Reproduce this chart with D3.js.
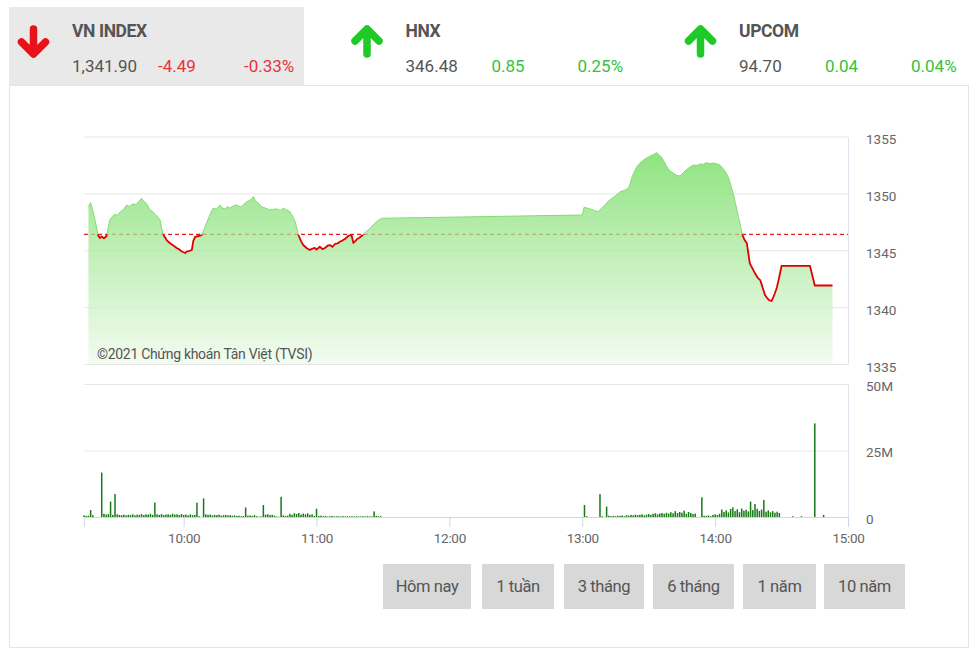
<!DOCTYPE html>
<html>
<head>
<meta charset="utf-8">
<script src="https://cdn.jsdelivr.net/npm/d3@7"></script>
<style>
  html, body { margin: 0; padding: 0; background: #fff; }
  svg { display: block; font-family: Roboto, "Noto Sans", sans-serif; }
</style>
</head>
<body>
<svg id="chart" width="978" height="656"></svg>
<script>
// ---------- data ----------
const indexNames   = ["VN INDEX", "HNX", "UPCOM"];
const indexValues  = ["1,341.90", "346.48", "94.70"];
const indexChanges = ["-4.49", "0.85", "0.04"];
const indexPcts    = ["-0.33%", "0.25%", "0.04%"];
const indexDirs    = ["down", "up", "up"];

const referencePrice = 1346.39;

const priceTimes = [
 "09:17:00","09:18:00","09:19:30","09:21:20","09:22:10","09:23:00","09:24:00","09:25:10","09:26:40","09:27:30",
 "09:29:00","09:30:00","09:31:20","09:32:40","09:34:20","09:35:30","09:37:00","09:38:30","09:39:50","09:41:00",
 "09:42:00","09:43:00","09:44:50","09:46:00","09:47:00","09:48:00","09:49:20","09:50:30","09:51:20","09:52:20",
 "09:53:20","09:54:20","09:55:30","09:56:50","09:57:50","09:58:50","09:59:40","10:00:40","10:01:30","10:02:20",
 "10:03:40","10:04:20","10:05:10","10:06:30","10:08:10","10:09:20","10:10:20","10:11:50","10:13:20","10:14:50",
 "10:16:20","10:17:30","10:18:40","10:19:50","10:20:50","10:22:30","10:24:00","10:25:50","10:27:10","10:28:30",
 "10:30:00","10:31:30","10:32:20","10:33:10","10:35:10","10:37:00","10:39:00","10:40:40","10:42:10","10:43:40",
 "10:45:00","10:46:30","10:48:00","10:49:10","10:50:20","10:51:10","10:51:50","10:53:00","10:54:00","10:55:30",
 "10:57:00","10:58:10","10:59:20","11:00:00","11:01:30","11:02:40","11:03:50","11:05:00","11:06:00","11:07:10",
 "11:08:20","11:09:30","11:10:30","11:11:40","11:12:50","11:14:00","11:15:00","11:15:50","11:16:40","11:17:30",
 "11:18:20","11:19:20","11:20:20","11:22:00","11:24:10","11:26:00","11:27:40","11:29:30",
 "13:00:00","13:00:50","13:03:30","13:05:30","13:07:10","13:08:30","13:09:50","13:11:10","13:12:30","13:13:40",
 "13:14:50","13:16:00","13:17:00","13:18:10","13:19:20","13:20:50","13:21:40","13:22:30","13:23:30","13:24:40",
 "13:26:00","13:27:40","13:29:00","13:30:40","13:32:00","13:33:40","13:34:40","13:35:40","13:37:00","13:38:10",
 "13:39:30","13:41:00","13:42:30","13:44:10","13:45:30","13:46:50","13:48:30","13:50:10","13:51:40","13:53:10",
 "13:54:40","13:56:10","13:57:40","13:59:00","14:00:40","14:02:10","14:03:30","14:04:40","14:05:50","14:07:00",
 "14:08:10","14:09:20","14:10:30","14:11:30","14:12:20","14:13:20","14:14:20","14:15:00","14:15:40","14:16:50",
 "14:18:00","14:19:10","14:20:20","14:21:20","14:22:30","14:23:30","14:24:30","14:25:30","14:26:20","14:27:00",
 "14:27:50","14:28:30","14:29:20","14:30:00","14:42:50","14:45:00","14:53:00"
];
const priceValues = [
 1348.83,1349.18,1348.10,1346.34,1346.08,1346.22,1346.05,1346.25,1347.66,1347.90,
 1348.19,1348.05,1348.37,1348.55,1348.98,1348.85,1349.07,1349.02,1349.30,1349.57,
 1349.30,1349.15,1348.54,1348.40,1348.19,1348.00,1347.66,1346.52,1346.20,1345.90,
 1345.70,1345.55,1345.40,1345.20,1345.10,1344.93,1344.85,1344.76,1344.90,1344.93,
 1345.02,1345.80,1346.17,1346.25,1346.34,1346.90,1347.40,1348.10,1348.71,1348.60,
 1348.98,1348.70,1348.63,1348.85,1348.71,1348.90,1348.98,1348.80,1349.05,1349.27,
 1349.40,1349.71,1349.40,1349.24,1348.83,1348.70,1348.54,1348.60,1348.63,1348.50,
 1348.69,1348.55,1348.39,1348.00,1347.51,1346.90,1346.34,1345.80,1345.46,1345.20,
 1345.02,1345.15,1345.20,1345.05,1345.31,1345.10,1345.20,1345.40,1345.46,1345.30,
 1345.55,1345.60,1345.75,1345.85,1345.99,1346.20,1346.34,1346.30,1345.64,1345.80,
 1345.99,1346.10,1346.25,1346.55,1346.93,1347.30,1347.60,1347.81,
 1348.10,1348.78,1348.63,1348.50,1348.39,1348.65,1348.89,1349.20,1349.42,1349.60,
 1349.77,1349.95,1350.15,1350.20,1350.30,1350.45,1350.90,1351.44,1351.90,1352.35,
 1352.65,1352.93,1353.10,1353.29,1353.40,1353.58,1353.40,1353.20,1352.80,1352.35,
 1352.00,1351.79,1351.60,1351.53,1351.80,1352.05,1352.30,1352.49,1352.45,1352.58,
 1352.55,1352.70,1352.60,1352.67,1352.60,1352.49,1352.20,1351.90,1351.47,1350.80,
 1350.01,1349.00,1347.95,1347.10,1346.34,1345.90,1345.61,1344.73,1343.85,1343.40,
 1342.97,1342.60,1342.38,1341.80,1341.07,1340.80,1340.60,1340.54,1340.90,1341.22,
 1341.70,1342.24,1343.00,1343.62,1343.62,1341.90,1341.90
];

// volume in millions, one value per minute
const morningStart = "09:15";
const morningVolumes = [
 0.6,0.4,0.5,2.6,0.7,0,0,0,16.7,1.2,0.9,1.1,5.8,0.8,8.6,
 1.0,0.8,0.7,0.9,0.6,0.8,0.7,1.0,0.6,0.9,0.8,1.1,0.7,1.0,0.9,
 1.2,0.8,5.4,1.0,0.8,1.1,0.7,0.9,1.0,0.8,1.2,0.9,1.0,0.7,1.1,
 0.8,0.9,0.6,1.0,0.7,0.8,5.4,0.3,0,7.0,1.0,0.8,0.9,0.6,0.8,
 0.7,0.9,0.5,0.7,0.8,0.6,0.7,0.5,0.6,0.4,0.5,0.3,0.4,3.6,0.5,
 0.6,0.4,0.7,0.3,0.1,0.2,4.5,0.9,1.0,0.7,0.8,0.5,0.2,0.1,7.6,
 0.6,0.4,0.5,1.2,0.8,1.4,1.1,1.5,0.9,1.3,1.0,1.4,0.8,1.0,0.4,
 3.1,0.4,0.5,0.3,0.4,0.2,0.3,0.4,0.2,0.3,0.3,0.2,0.3,0.2,0.3,
 0.2,0.3,0.2,0.3,0.2,0.2,0.3,0.2,0.3,0.2,0.2,2.1,0.4,0.3,0.3
];
const afternoonStart = "13:00";
const afternoonVolumes = [
 0,4.5,0.3,0,0,0,0,0,8.6,0.3,0,3.9,0.5,0.3,0.4,
 0.3,0.5,0.4,0.6,0.3,0.7,0.5,0.8,0.6,0.9,0.7,0.8,1.0,0.6,0.9,
 1.1,0.8,1.2,1.4,1.0,1.3,1.5,1.2,1.6,1.3,1.8,1.4,2.2,1.5,1.9,
 1.6,2.4,1.2,1.9,1.5,1.1,1.3,0,0,7.4,0.5,0.4,0.6,0.3,0.8,
 1.0,0.7,1.2,2.8,1.9,2.5,1.7,3.0,3.6,2.2,2.9,1.8,3.2,2.4,2.7,
 2.1,5.8,2.6,4.9,3.1,2.3,2.8,6.4,2.0,2.5,1.8,2.2,1.6,2.0,1.5
];
const lateTimes   = ["14:35", "14:39", "14:45", "14:49"];
const lateVolumes = [0.3, 0.3, 35.2, 0.8];

const priceTicks  = [1335, 1340, 1345, 1350, 1355];
const volumeTicks = [0, 25, 50];
const volumeTickLabels = ["0", "25M", "50M"];
const timeTicks = ["10:00", "11:00", "12:00", "13:00", "14:00", "15:00"];
const rangeButtons = ["Hôm nay", "1 tuần", "3 tháng", "6 tháng", "1 năm", "10 năm"];
const copyright = "©2021 Chứng khoán Tân Việt (TVSI)";

// ---------- helpers ----------
const day = "2021-01-01T";
const parseT = s => new Date(day + (s.length === 5 ? s + ":00" : s));
const addMin = (s, m) => new Date(parseT(s).getTime() + m * 60000);

const svg = d3.select("#chart");
const W = 978;

// ---------- header ----------
svg.append("rect").attr("x", 9.5).attr("y", 85.5).attr("width", 959).attr("height", 562)
  .attr("fill", "#fff").attr("stroke", "#e4e4e4");
svg.append("rect").attr("x", 9).attr("y", 7).attr("width", 295).attr("height", 78).attr("fill", "#e9e9e9");

const headerX = d3.scalePoint().domain(indexNames).range([0, 667]);
const red = "#e8333c", green = "#35c23e";
indexNames.forEach((name, i) => {
  const x0 = 17 + headerX(name);
  const g = svg.append("g").attr("transform", `translate(${x0},0)`);
  const ac = indexDirs[i] === "down" ? "#e8121b" : "#1ec928";
  const cx = 16.5;
  if (indexDirs[i] === "down") {
    g.append("path").attr("d", `M${cx},29 L${cx},53 M${cx - 12},42 L${cx},54 L${cx + 12},42`)
      .attr("stroke", ac).attr("stroke-width", 7.5).attr("fill", "none")
      .attr("stroke-linecap", "round").attr("stroke-linejoin", "round");
  } else {
    g.append("path").attr("d", `M${cx},54 L${cx},30 M${cx - 12},41 L${cx},29 L${cx + 12},41`)
      .attr("stroke", ac).attr("stroke-width", 7.5).attr("fill", "none")
      .attr("stroke-linecap", "round").attr("stroke-linejoin", "round");
  }
  const tc = indexDirs[i] === "down" ? red : green;
  g.append("text").attr("x", 55).attr("y", 36.5).text(name)
    .attr("font-size", 17.5).attr("font-weight", "bold").attr("fill", "#555")
    .attr("letter-spacing", -0.4);
  g.append("text").attr("x", 55).attr("y", 72).text(indexValues[i])
    .attr("font-size", 17).attr("fill", "#555");
  g.append("text").attr("x", 141).attr("y", 72).text(indexChanges[i])
    .attr("font-size", 17).attr("fill", tc);
  g.append("text").attr("x", 227).attr("y", 72).text(indexPcts[i])
    .attr("font-size", 17).attr("fill", tc);
});

// ---------- scales ----------
const x = d3.scaleTime().domain([parseT("09:15"), parseT("15:00")]).range([84, 848]);
const y = d3.scaleLinear().domain([1335, 1355]).range([364, 136.5]);
const yv = d3.scaleLinear().domain([0, 50]).range([517, 384]);

const gridColor = "#e6e6e6";
const borderColor = "#dfe4ec";

// ---------- price panel ----------
const pg = svg.append("g");
pg.append("g").attr("transform", "translate(84,0)")
  .call(d3.axisLeft(y).tickValues(priceTicks).tickSize(-764).tickFormat(""))
  .call(g => g.select(".domain").remove())
  .call(g => g.selectAll("line").attr("stroke", gridColor));
pg.append("g").attr("transform", "translate(848,0)")
  .call(d3.axisRight(y).tickValues(priceTicks).tickSize(0).tickPadding(18).tickFormat(d3.format("d")))
  .call(g => g.select(".domain").attr("stroke", borderColor))
  .call(g => g.selectAll("text").attr("font-size", 13.5).attr("fill", "#666")
    .attr("font-family", "Roboto, sans-serif").attr("dy", "0.55em"));

const data = priceTimes.map((t, i) => ({ t: parseT(t), v: priceValues[i] }));
const refY = y(referencePrice);

pg.append("line").attr("x1", 84).attr("x2", 848).attr("y1", refY).attr("y2", refY)
  .attr("stroke", "#e81c1c").attr("stroke-width", 1.3).attr("stroke-dasharray", "4,3");

const defs = svg.append("defs");
const grad = defs.append("linearGradient").attr("id", "areaGrad")
  .attr("gradientUnits", "userSpaceOnUse").attr("x1", 0).attr("x2", 0).attr("y1", 150).attr("y2", 364);
grad.append("stop").attr("offset", 0).attr("stop-color", "#66da52");
grad.append("stop").attr("offset", 0.5).attr("stop-color", "#aeeaa2");
grad.append("stop").attr("offset", 1).attr("stop-color", "#eefbeb");

const area = d3.area().x(d => x(d.t)).y0(364).y1(d => y(d.v));
pg.append("path").datum(data).attr("d", area).attr("fill", "url(#areaGrad)").attr("fill-opacity", 0.74);

defs.append("clipPath").attr("id", "clipAbove").append("rect")
  .attr("x", 0).attr("y", 0).attr("width", W).attr("height", refY);
defs.append("clipPath").attr("id", "clipBelow").append("rect")
  .attr("x", 0).attr("y", refY).attr("width", W).attr("height", 656 - refY);

const line = d3.line().x(d => x(d.t)).y(d => y(d.v));
pg.append("path").datum(data).attr("d", line).attr("fill", "none")
  .attr("stroke", "#82dc70").attr("stroke-width", 1).attr("clip-path", "url(#clipAbove)");
pg.append("path").datum(data).attr("d", line).attr("fill", "none")
  .attr("stroke", "#e00000").attr("stroke-width", 1.8).attr("stroke-linejoin", "round")
  .attr("clip-path", "url(#clipBelow)");

pg.append("text").attr("x", 97).attr("y", 359).text(copyright)
  .attr("font-size", 14).attr("fill", "#555").attr("letter-spacing", -0.3);

// ---------- volume panel ----------
const vg = svg.append("g");
vg.append("g").attr("transform", "translate(84,0)")
  .call(d3.axisLeft(yv).tickValues([25, 50]).tickSize(-764).tickFormat(""))
  .call(g => g.select(".domain").remove())
  .call(g => g.selectAll("line").attr("stroke", gridColor));
vg.append("g").attr("transform", "translate(848,0)")
  .call(d3.axisRight(yv).tickValues(volumeTicks).tickSize(0).tickPadding(18)
    .tickFormat((d, i) => volumeTickLabels[i]))
  .call(g => g.select(".domain").attr("stroke", borderColor))
  .call(g => g.selectAll("text").attr("font-size", 13.5).attr("fill", "#666")
    .attr("font-family", "Roboto, sans-serif").attr("dy", "0.45em"));

const volData = [
  ...morningVolumes.map((v, i) => ({ t: addMin(morningStart, i), v })),
  ...afternoonVolumes.map((v, i) => ({ t: addMin(afternoonStart, i), v })),
  ...lateTimes.map((t, i) => ({ t: parseT(t), v: lateVolumes[i] }))
].filter(d => d.v > 0);

vg.selectAll("rect.vol").data(volData).join("rect").attr("class", "vol")
  .attr("x", d => x(d.t) - 0.75).attr("width", 1.5)
  .attr("y", d => yv(d.v)).attr("height", d => 517 - yv(d.v))
  .attr("fill", "#177a17");

vg.append("g").attr("transform", "translate(0,517)")
  .call(d3.axisBottom(x).tickValues(timeTicks.map(parseT)).tickSize(10).tickPadding(6)
    .tickFormat(d3.timeFormat("%H:%M")))
  .call(g => g.select(".domain").attr("stroke", "#ccd6eb"))
  .call(g => g.selectAll("line").attr("stroke", "#ccd6eb"))
  .call(g => g.selectAll("text").attr("font-size", 13.5).attr("fill", "#666")
    .attr("letter-spacing", -0.3).attr("font-family", "Roboto, sans-serif"));

// ---------- range buttons ----------
const btnX = [383, 482, 564, 653, 743, 824];
const btnW = [88, 72, 80, 81, 73, 81];
const bg = svg.append("g");
rangeButtons.forEach((b, i) => {
  bg.append("rect").attr("x", btnX[i]).attr("y", 564).attr("width", btnW[i]).attr("height", 45)
    .attr("fill", "#d8d8d8");
  bg.append("text").attr("x", btnX[i] + btnW[i] / 2).attr("y", 592).attr("text-anchor", "middle")
    .text(b).attr("font-size", 16.5).attr("fill", "#555").attr("letter-spacing", -0.4);
});
</script>
</body>
</html>
